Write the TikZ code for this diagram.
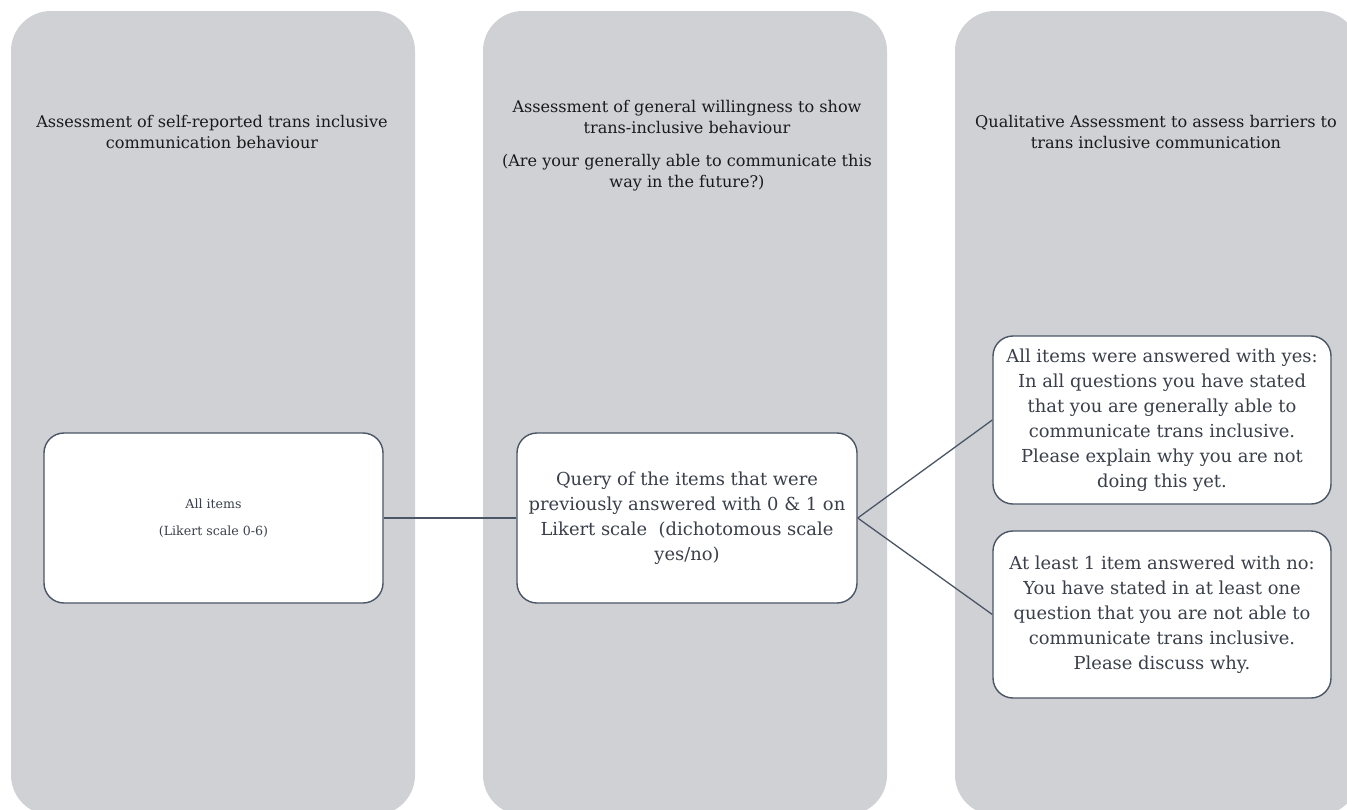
\documentclass[tikz,border=0pt]{standalone}
\usepackage{fontspec}
\setmainfont{DejaVu Serif}
\begin{document}
\begin{tikzpicture}[x=1pt,y=-1pt,
  col/.style={fill=colgray,draw=none,rounded corners=40pt},
  head/.style={align=center,text=headtxt,font=\fontsize{16.1}{21}\selectfont,inner sep=0pt},
  whitebox/.style={draw=boxline,line width=1.4pt,fill=white,rounded corners=20pt,align=center,inner sep=0pt,text=boxtxt},
  conn/.style={draw=boxline,line width=1.3pt}]
\definecolor{colgray}{HTML}{D0D1D5}
\definecolor{boxline}{HTML}{4A5566}
\definecolor{boxtxt}{HTML}{3A3F4A}
\definecolor{headtxt}{HTML}{1A1A1A}
\useasboundingbox (0,0) rectangle (1347,809);
\fill[white] (0,0) rectangle (1347,809);
\path[col] (11,11) rectangle (415,815);
\path[col] (483,11) rectangle (887,815);
\path[col] (955,11) rectangle (1359,815);

\node[head] (h1) at (212,131.5) {Assessment of self-reported trans inclusive\\communication behaviour};
\node[head] (h2) at (687,145.5) {Assessment of general willingness to show\\trans-inclusive behaviour\\[12pt](Are your generally able to communicate this\\way in the future?)};
\node[head] (h3) at (1156,131.5) {Qualitative Assessment to assess barriers to\\trans inclusive communication};

\node[whitebox,minimum width=339pt,minimum height=170pt,font=\fontsize{12.6}{27}\selectfont] (b1) at (213.5,518) {All items\\(Likert scale 0-6)};
\node[whitebox,minimum width=340pt,minimum height=170pt,font=\fontsize{17.9}{25}\selectfont] (b2) at (687,518) {Query of the items that were\\previously answered with 0 \& 1 on\\Likert scale\ \ (dichotomous scale\\yes/no)};
\node[whitebox,minimum width=338pt,minimum height=168pt,font=\fontsize{17.9}{25}\selectfont] (b3) at (1162,420) {All items were answered with yes:\\In all questions you have stated\\that you are generally able to\\communicate trans inclusive.\\Please explain why you are not\\doing this yet.};
\node[whitebox,minimum width=338pt,minimum height=167pt,font=\fontsize{17.9}{25}\selectfont] (b4) at (1162,614.5) {At least 1 item answered with no:\\You have stated in at least one\\question that you are not able to\\communicate trans inclusive.\\Please discuss why.};

\draw[conn] (b1.east) -- (b2.west);
\draw[conn] (b2.east) -- (b3.west);
\draw[conn] (b2.east) -- (b4.west);
\end{tikzpicture}
\end{document}
